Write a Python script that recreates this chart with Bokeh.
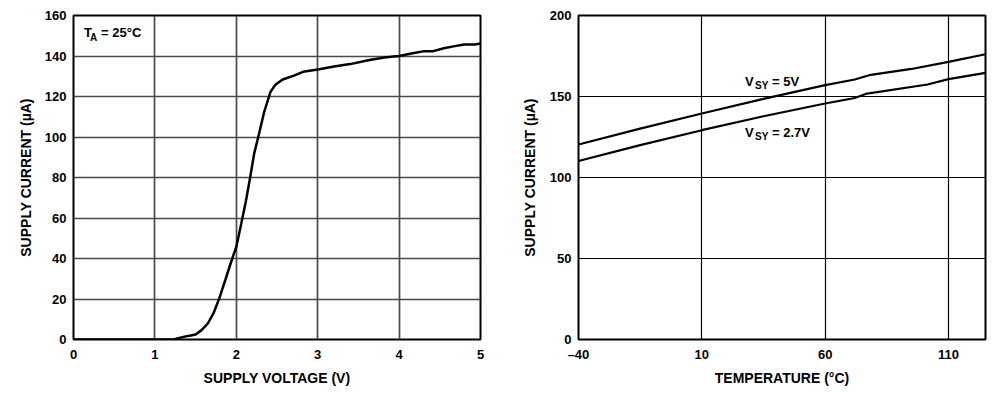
from bokeh.plotting import figure
from bokeh.layouts import row
from bokeh.models import FixedTicker, Range1d
from bokeh.core.properties import value
from bokeh.embed import file_html
from bokeh.resources import INLINE

# ---- Left chart data: supply current vs supply voltage (TA = 25°C)
volt = [0.0, 0.5, 1.0, 1.23, 1.35, 1.44, 1.5, 1.57, 1.65, 1.72, 1.79, 1.87, 1.95, 2.0,
        2.06, 2.12, 2.17, 2.22, 2.28, 2.34, 2.42, 2.48, 2.57, 2.7, 2.82, 3.02, 3.2,
        3.4, 3.62, 3.82, 3.9, 4.0, 4.15, 4.31, 4.42, 4.55, 4.7, 4.8, 4.93, 5.0]
curr = [0.0, 0.0, 0.0, 0.0, 1.3, 2.0, 2.5, 4.5, 7.9, 13.0, 20.2, 30.0, 40.0, 45.7,
        57.0, 68.8, 80.0, 91.9, 101.7, 112.0, 122.3, 125.8, 128.4, 130.2, 132.2, 133.5, 134.8,
        136.0, 137.9, 139.3, 139.6, 140.0, 141.2, 142.4, 142.4, 143.8, 145.0, 145.7, 145.7, 146.2]
volt_ticks = [0, 1, 2, 3, 4, 5]
curr_ticks = [0, 20, 40, 60, 80, 100, 120, 140, 160]

# ---- Right chart data: supply current vs temperature
temp_5v = [-40, -15, 10, 35, 60, 72, 78.5, 95, 110, 125]
curr_5v = [120.4, 130.2, 139.5, 148.5, 157.0, 160.5, 163.4, 167.0, 171.4, 176.1]
temp_27v = [-40, -15, 10, 35, 60, 72, 77, 101.5, 110, 125]
curr_27v = [110.2, 120.0, 129.2, 137.8, 145.7, 149.1, 151.8, 157.4, 160.7, 164.6]
temp_ticks = [-40, 10, 60, 110]
temp_labels = {-40: "\u201340", 10: "10", 60: "60", 110: "110"}
curr2_ticks = [0, 50, 100, 150, 200]

FONT = "Liberation Sans"
TICK_FS = "13px"
LAB_FS = "14px"


def style(p, grid_color, grid_width):
    p.outline_line_color = "black"
    p.outline_line_width = 2
    for ax in (p.xaxis, p.yaxis):
        ax.axis_line_color = None
        ax.major_tick_out = 0
        ax.major_tick_in = 0
        ax.minor_tick_out = 0
        ax.minor_tick_in = 0
        ax.major_label_text_font = FONT
        ax.major_label_text_font_style = "bold"
        ax.major_label_text_font_size = TICK_FS
        ax.major_label_text_color = "black"
        ax.axis_label_text_font = FONT
        ax.axis_label_text_font_style = "bold"
        ax.axis_label_text_font_size = LAB_FS
        ax.axis_label_text_color = "black"
    p.grid.grid_line_color = grid_color
    p.grid.grid_line_width = grid_width
    p.background_fill_color = "white"
    p.border_fill_color = "white"


def sub_label(p, x, y, main, sub, tail, sub_dx, tail_dx, sub_dy):
    kw = dict(text_font=value(FONT), text_font_style="bold", text_baseline="middle",
              text_align="left", text_color="black")
    p.text(x=[x], y=[y], text=[main], text_font_size="13px", **kw)
    p.text(x=[x], y=[y], text=[sub], text_font_size="10px", x_offset=sub_dx, y_offset=sub_dy, **kw)
    p.text(x=[x], y=[y], text=[tail], text_font_size="13px", x_offset=tail_dx, **kw)


# ---------------- Left figure
p1 = figure(width=500, height=390, output_backend="svg", toolbar_location=None,
            x_range=Range1d(0, 5), y_range=Range1d(0, 160),
            min_border_left=73, min_border_right=20, min_border_top=15, min_border_bottom=51)
style(p1, "#4a4a4a", 1.7)
p1.xaxis.ticker = FixedTicker(ticks=volt_ticks)
p1.yaxis.ticker = FixedTicker(ticks=curr_ticks)
p1.xaxis.axis_label = "SUPPLY VOLTAGE (V)"
p1.yaxis.axis_label = "SUPPLY CURRENT (\u00b5A)"
p1.xaxis.major_label_standoff = 10
p1.xaxis.axis_label_standoff = 8
p1.yaxis.major_label_standoff = 7
p1.yaxis.axis_label_standoff = 8
p1.line(volt, curr, line_color="black", line_width=2.5)
sub_label(p1, 0.13, 151.5, "T", "A", "= 25\u00b0C", 6, 17, 5)

# ---------------- Right figure
p2 = figure(width=500, height=390, output_backend="svg", toolbar_location=None,
            x_range=Range1d(-40, 125), y_range=Range1d(0, 200),
            min_border_left=78, min_border_right=15, min_border_top=15, min_border_bottom=51)
style(p2, "black", 1.2)
p2.xaxis.ticker = FixedTicker(ticks=temp_ticks)
p2.xaxis.major_label_overrides = temp_labels
p2.yaxis.ticker = FixedTicker(ticks=curr2_ticks)
p2.xaxis.axis_label = "TEMPERATURE (\u00b0C)"
p2.yaxis.axis_label = "SUPPLY CURRENT (\u00b5A)"
p2.xaxis.major_label_standoff = 7
p2.xaxis.axis_label_standoff = 5
p2.yaxis.major_label_standoff = 7
p2.yaxis.axis_label_standoff = 9
p2.line(temp_5v, curr_5v, line_color="black", line_width=2.2)
p2.line(temp_27v, curr_27v, line_color="black", line_width=2.2)
sub_label(p2, 27.5, 159.0, "V", "SY", "= 5V", 10, 27, 4)
sub_label(p2, 27.5, 127.8, "V", "SY", "= 2.7V", 10, 27, 4)

layout = row(p1, p2)
open("out.html", "w").write(file_html(layout, INLINE))
